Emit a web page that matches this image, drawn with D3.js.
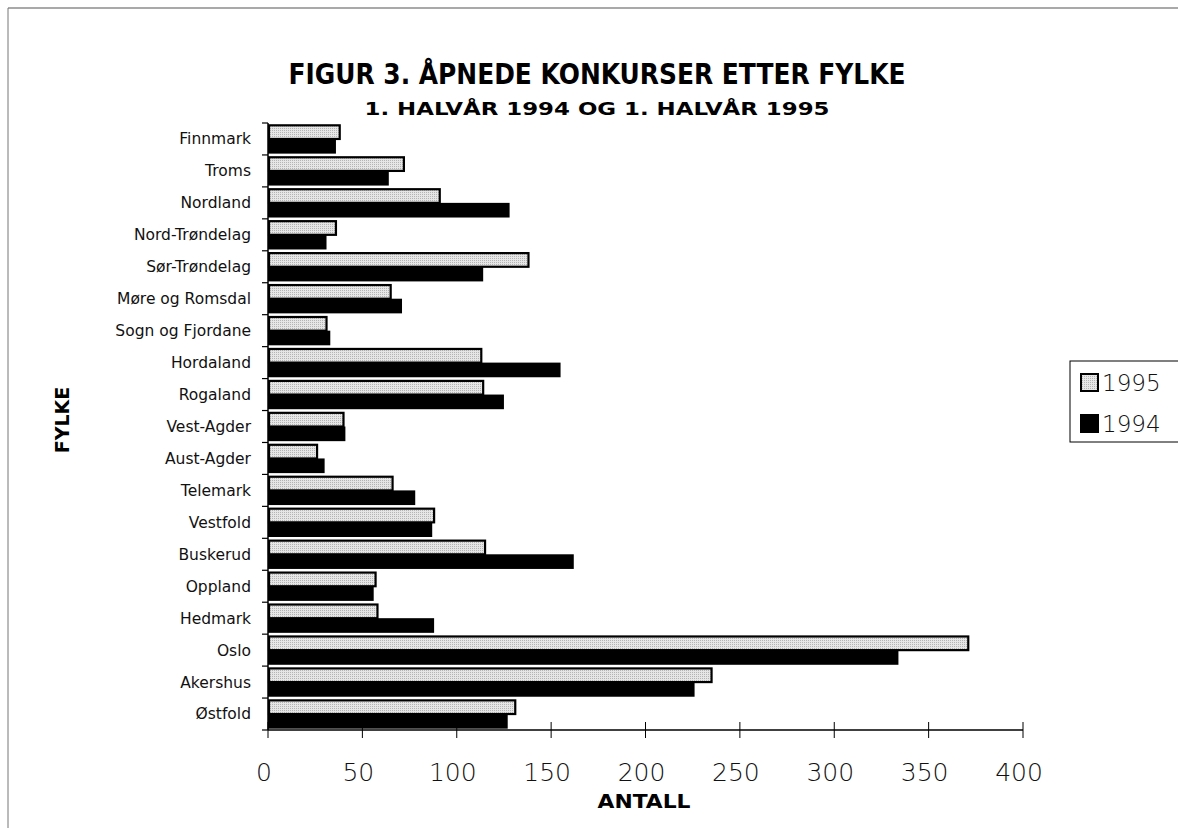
<!DOCTYPE html>
<html>
<head>
<meta charset="utf-8">
<script src="https://cdn.jsdelivr.net/npm/d3@7"></script>
<style>
  html, body { margin: 0; padding: 0; background: #fff; }
  svg { display: block; }
</style>
</head>
<body>
<svg id="chart" width="1178" height="828"></svg>
<script>
// ---- data ----
const categories = ["Finnmark","Troms","Nordland","Nord-Trøndelag","Sør-Trøndelag","Møre og Romsdal","Sogn og Fjordane","Hordaland","Rogaland","Vest-Agder","Aust-Agder","Telemark","Vestfold","Buskerud","Oppland","Hedmark","Oslo","Akershus","Østfold"];
const values1995 = [38, 72, 91, 36, 138, 65, 31, 113, 114, 40, 26, 66, 88, 115, 57, 58, 371, 235, 131];
const values1994 = [36, 64, 128, 31, 114, 71, 33, 155, 125, 41, 30, 78, 87, 162, 56, 88, 334, 226, 127];
const seriesNames = ["1995", "1994"];
const xTicks = [0, 50, 100, 150, 200, 250, 300, 350, 400];
const titleText = "FIGUR 3. ÅPNEDE KONKURSER ETTER FYLKE";
const subtitleText = "1. HALVÅR 1994 OG 1. HALVÅR 1995";
const xTitle = "ANTALL";
const yTitle = "FYLKE";

(function () {
const svg = d3.select("#chart");
const defs = svg.append("defs");
const pat = defs.append("pattern").attr("id", "stipple")
  .attr("width", 2).attr("height", 2).attr("patternUnits", "userSpaceOnUse");
pat.append("rect").attr("width", 2).attr("height", 2).attr("fill", "#e6e6e6");
pat.append("rect").attr("x", 0).attr("y", 0).attr("width", 1).attr("height", 1).attr("fill", "#b4b4b4");

const pL = 268, pR = 1023, pT = 123, pB = 730;
const x = d3.scaleLinear().domain([0, 400]).range([pL, pR]);
const y = d3.scaleBand().domain(categories).range([pT, pB]).paddingInner(0).paddingOuter(0);
const inner = d3.scaleBand().domain(seriesNames).range([0, y.bandwidth()]).paddingInner(0).paddingOuter(0.09);

// frame
svg.append("line").attr("x1", 8).attr("x2", 1178).attr("y1", 8).attr("y2", 8).attr("stroke", "#555").attr("stroke-width", 1.2);
svg.append("line").attr("x1", 8).attr("x2", 8).attr("y1", 8).attr("y2", 828).attr("stroke", "#777").attr("stroke-width", 1);

// titles
svg.append("text").attr("x", 597).attr("y", 84).attr("text-anchor", "middle")
  .attr("font-family", "DejaVu Sans, sans-serif").attr("font-weight", "bold").attr("font-size", 28)
  .attr("textLength", 617).attr("lengthAdjust", "spacingAndGlyphs").text(titleText);
svg.append("text").attr("x", 597).attr("y", 115).attr("text-anchor", "middle")
  .attr("font-family", "DejaVu Sans, sans-serif").attr("font-weight", "bold").attr("font-size", 18)
  .attr("textLength", 465).attr("lengthAdjust", "spacingAndGlyphs").text(subtitleText);

// bars
const g = svg.append("g");
const rows = categories.map((c, i) => ({ cat: c, v1995: values1995[i], v1994: values1994[i] }));
g.selectAll("rect.b1994").data(rows).enter().append("rect")
  .attr("class", "b1994")
  .attr("x", x(0))
  .attr("y", d => y(d.cat) + inner("1994"))
  .attr("width", d => x(d.v1994) - x(0))
  .attr("height", inner.bandwidth())
  .attr("fill", "#000");
g.selectAll("rect.b1995").data(rows).enter().append("rect")
  .attr("class", "b1995")
  .attr("x", x(0) + 1)
  .attr("y", d => y(d.cat) + inner("1995") + 1)
  .attr("width", d => x(d.v1995) - x(0) - 1)
  .attr("height", inner.bandwidth() - 1)
  .attr("fill", "url(#stipple)")
  .attr("stroke", "#000").attr("stroke-width", 2.2);

// y axis
svg.append("line").attr("x1", pL).attr("x2", pL).attr("y1", pT).attr("y2", pB).attr("stroke", "#000").attr("stroke-width", 1.5);
const yBounds = categories.map(c => y(c)).concat([pB]);
svg.selectAll("line.ytick").data(yBounds).enter().append("line")
  .attr("x1", pL - 6).attr("x2", pL).attr("y1", d => d).attr("y2", d => d)
  .attr("stroke", "#000").attr("stroke-width", 1.2);
svg.selectAll("text.ylab").data(categories).enter().append("text")
  .attr("x", 251).attr("y", d => y(d) + y.bandwidth() / 2).attr("dy", "0.35em")
  .attr("text-anchor", "end").attr("font-family", "DejaVu Sans, sans-serif").attr("font-size", 15.5)
  .attr("fill", "#111").text(d => d);

// x axis
svg.append("line").attr("x1", pL).attr("x2", pR).attr("y1", pB).attr("y2", pB).attr("stroke", "#000").attr("stroke-width", 1.5);
svg.selectAll("line.xtick").data(xTicks).enter().append("line")
  .attr("x1", d => x(d)).attr("x2", d => x(d)).attr("y1", pB - 8).attr("y2", pB + 8)
  .attr("stroke", "#000").attr("stroke-width", 1);
svg.selectAll("text.xlab").data(xTicks).enter().append("text")
  .attr("x", d => x(d) - 4).attr("y", 781).attr("text-anchor", "middle")
  .attr("font-family", "DejaVu Sans, sans-serif").attr("font-weight", 200).attr("font-size", 25)
  .attr("fill", "#111").text(d => d);

svg.append("text").attr("x", 644).attr("y", 808).attr("text-anchor", "middle")
  .attr("font-family", "DejaVu Sans, sans-serif").attr("font-weight", "bold").attr("font-size", 20)
  .attr("textLength", 93).attr("lengthAdjust", "spacingAndGlyphs").text(xTitle);
svg.append("text").attr("transform", "translate(69,420) rotate(-90)").attr("text-anchor", "middle")
  .attr("font-family", "DejaVu Sans, sans-serif").attr("font-weight", "bold").attr("font-size", 19)
  .text(yTitle);

// legend
const lg = svg.append("g");
lg.append("rect").attr("x", 1070).attr("y", 361).attr("width", 120).attr("height", 81)
  .attr("fill", "#fff").attr("stroke", "#000").attr("stroke-width", 1);
const legendItems = [{ name: "1995", fill: "url(#stipple)", y: 374 }, { name: "1994", fill: "#000", y: 415 }];
legendItems.forEach(it => {
  lg.append("rect").attr("x", 1081).attr("y", it.y).attr("width", 17).attr("height", 17)
    .attr("fill", it.fill).attr("stroke", "#000").attr("stroke-width", 2);
  lg.append("text").attr("x", 1102).attr("y", it.y + 9).attr("dy", "0.36em")
    .attr("font-family", "DejaVu Sans, sans-serif").attr("font-weight", 200).attr("font-size", 23)
    .attr("fill", "#111").text(it.name);
});
})();
</script>
</body>
</html>
